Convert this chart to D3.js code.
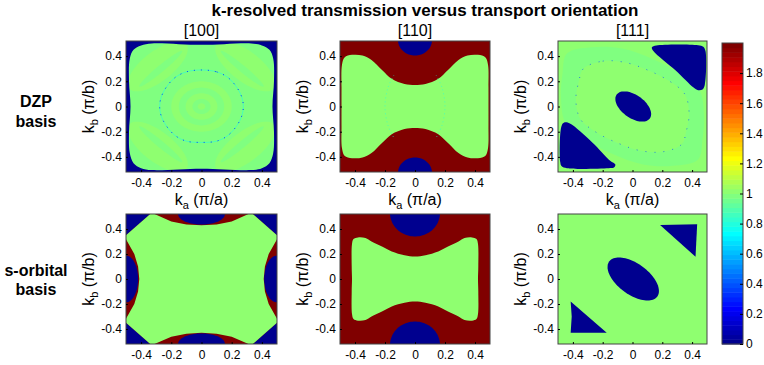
<!DOCTYPE html>
<html>
<head>
<meta charset="utf-8">
<script src="https://cdn.jsdelivr.net/npm/d3@7"></script>
<style>
  body { margin: 0; background: #fff; }
  text { font-family: "Liberation Sans", Arial, sans-serif; fill: #000; }
</style>
</head>
<body>
<svg id="chart" width="764" height="365"></svg>
<script>
// ---- values ----
const title = "k-resolved transmission versus transport orientation";
const columnTitles = ["[100]", "[110]", "[111]"];
const rowTitles = [["DZP", "basis"], ["s-orbital", "basis"]];
const axisTicks = [-0.4, -0.2, 0, 0.2, 0.4];
const colorbarTicks = [0, 0.2, 0.4, 0.6, 0.8, 1, 1.2, 1.4, 1.6, 1.8];

// transmission levels that appear in the maps
const T0 = 0, T1 = 1, T1low = 0.99, T2 = 2;

// [100], DZP : green rounded square, blue outside
const dzp100Green = [[-0.33,0.50],[-0.15,0.495],[0,0.49],[0.15,0.495],[0.33,0.50],[0.40,0.485],[0.45,0.45],
  [0.475,0.38],[0.48,0.2],[0.47,0],[0.48,-0.2],[0.475,-0.37],[0.45,-0.45],[0.40,-0.49],[0.33,-0.505],
  [0.15,-0.50],[0,-0.495],[-0.15,-0.50],[-0.33,-0.505],[-0.40,-0.49],[-0.45,-0.45],[-0.475,-0.37],
  [-0.48,-0.2],[-0.47,0],[-0.48,0.2],[-0.475,0.38],[-0.45,0.45],[-0.40,0.485]];
// corner lobes: cx, cy, semi-axis a, semi-axis b, angle (deg)
const dzp100Lobes = [[0.29,0.32,0.26,0.11,-45],[-0.29,0.32,0.26,0.11,45],[-0.29,-0.32,0.26,0.11,-45],[0.29,-0.32,0.26,0.11,45]];
const dzp100LobeCores = [[0.27,0.30,0.2,0.025,-45],[-0.27,0.30,0.2,0.025,45],[-0.27,-0.30,0.2,0.025,-45],[0.27,-0.30,0.2,0.025,45]];
const dzp100RingRadii = [0.2, 0.15, 0.105, 0.06, 0.025];
const dzp100DotRing = [[0,0.29],[0.1,0.275],[0.175,0.23],[0.235,0.15],[0.268,0.07],[0.277,0],[0.268,-0.07],
  [0.235,-0.15],[0.175,-0.23],[0.1,-0.275],[0,-0.285],[-0.1,-0.275],[-0.175,-0.23],[-0.235,-0.15],
  [-0.268,-0.07],[-0.277,0],[-0.268,0.07],[-0.235,0.15],[-0.175,0.23],[-0.1,0.275]];

// [110], DZP : green bow-tie on red, blue caps
const dzp110Green = [[-0.47,0.39],[-0.42,0.41],[-0.35,0.405],[-0.29,0.37],[-0.22,0.29],[-0.155,0.22],[-0.07,0.178],
  [0,0.17],[0.07,0.178],[0.155,0.22],[0.22,0.29],[0.29,0.37],[0.35,0.405],[0.42,0.41],[0.47,0.39],
  [0.487,0.33],[0.49,0.15],[0.49,0],[0.49,-0.15],[0.487,-0.33],
  [0.47,-0.39],[0.42,-0.41],[0.35,-0.405],[0.29,-0.37],[0.22,-0.29],[0.155,-0.22],[0.07,-0.178],
  [0,-0.17],[-0.07,-0.178],[-0.155,-0.22],[-0.22,-0.29],[-0.29,-0.37],[-0.35,-0.405],[-0.42,-0.41],[-0.47,-0.39],
  [-0.487,-0.33],[-0.49,-0.15],[-0.49,0],[-0.49,0.15],[-0.487,0.33]];
const dzp110Caps = [[0,0.525,0.113,0.12,0],[0,-0.525,0.113,0.12,0]];
const dzp110Arcs = [
  [[-0.14,0.25],[-0.18,0.15],[-0.2,0],[-0.18,-0.15],[-0.14,-0.25]],
  [[0.14,0.25],[0.18,0.15],[0.2,0],[0.18,-0.15],[0.14,-0.25]]];

// [111], DZP : blue pockets on green
const dzp111Band = [[-0.44,0.42],[-0.27,0.47],[-0.07,0.46],[0.13,0.38],[0.32,0.26],[0.45,0.13],[0.48,-0.07],
  [0.47,-0.26],[0.44,-0.42],[0.27,-0.47],[0.07,-0.46],[-0.13,-0.38],[-0.32,-0.26],[-0.45,-0.13],
  [-0.48,0.07],[-0.47,0.26]];
const dzp111Ring = [[-0.33,0.30],[-0.2,0.36],[-0.05,0.35],[0.1,0.29],[0.25,0.2],[0.35,0.1],[0.38,-0.05],
  [0.36,-0.2],[0.33,-0.30],[0.2,-0.36],[0.05,-0.35],[-0.1,-0.29],[-0.25,-0.2],[-0.35,-0.1],
  [-0.38,0.05],[-0.36,0.2]];
const dzp111UpperPocket = [[0.13,0.47],[0.16,0.485],[0.44,0.487],[0.475,0.475],[0.49,0.44],[0.485,0.17],
  [0.47,0.135],[0.44,0.13],[0.41,0.15],[0.29,0.285],[0.14,0.44]];
const dzp111LowerPocket = [[-0.475,-0.15],[-0.455,-0.126],[-0.42,-0.135],[-0.27,-0.285],[-0.15,-0.43],
  [-0.115,-0.46],[-0.125,-0.485],[-0.16,-0.49],[-0.44,-0.49],[-0.475,-0.475],[-0.485,-0.44]];
const dzp111Centre = [0.005,0,0.147,0.085,-45];

// [100], s-orbital
const s100Red = [[-0.33,0.53],[0.33,0.53],[0.51,0.34],[0.51,-0.34],[0.33,-0.53],[-0.33,-0.53],[-0.51,-0.34],[-0.51,0.34]];
const s100Caps = [[0,0.52,0.155,0.085,0],[0,-0.52,0.155,0.085,0],[-0.5,0,0.08,0.187,0],[0.5,0,0.085,0.187,0]];
const s100Green = [[-0.33,0.53],[-0.2,0.461],[-0.1,0.437],[0,0.43],[0.1,0.437],[0.2,0.461],[0.33,0.53],
  [0.51,0.34],[0.445,0.2],[0.42,0.1],[0.412,0],[0.42,-0.1],[0.445,-0.2],[0.51,-0.34],
  [0.33,-0.53],[0.2,-0.461],[0.1,-0.437],[0,-0.43],[-0.1,-0.437],[-0.2,-0.461],[-0.33,-0.53],
  [-0.51,-0.34],[-0.445,-0.2],[-0.42,-0.1],[-0.412,0],[-0.42,0.1],[-0.445,0.2],[-0.51,0.34]];

// [110], s-orbital
const s110Green = [[-0.41,0.32],[-0.38,0.333],[-0.33,0.328],[-0.29,0.30],[-0.22,0.26],[-0.155,0.22],[-0.07,0.19],
  [0,0.18],[0.07,0.19],[0.155,0.22],[0.22,0.26],[0.29,0.30],[0.33,0.328],[0.38,0.333],[0.41,0.32],
  [0.42,0.28],[0.422,0.1],[0.42,0],[0.422,-0.1],[0.42,-0.28],
  [0.41,-0.32],[0.38,-0.333],[0.33,-0.328],[0.29,-0.30],[0.22,-0.26],[0.155,-0.22],[0.07,-0.19],
  [0,-0.18],[-0.07,-0.19],[-0.155,-0.22],[-0.22,-0.26],[-0.29,-0.30],[-0.33,-0.328],[-0.38,-0.333],[-0.41,-0.32],
  [-0.42,-0.28],[-0.422,-0.1],[-0.42,0],[-0.422,0.1],[-0.42,0.28]];
const s110Caps = [[0,0.53,0.167,0.19,0],[0,-0.53,0.167,0.19,0]];

// [111], s-orbital
const s111UpperPocket = [[0.185,0.432],[0.434,0.438],[0.423,0.178]];
const s111LowerPocket = [[-0.415,-0.18],[-0.408,-0.3],[-0.415,-0.43],[-0.173,-0.43]];
const s111Centre = [0.005,0,0.215,0.115,-45];

// ---- layout ----
const colX = [[126,277],[340,490],[558,707]];
const rowY = [[41,172],[214,344]];
const rowTitleY = [[107,127],[276,295]];
const dom = { x: [-0.5, 0.5], y: [-0.52, 0.52] };
const cbBox = { x0: 722, x1: 743, y0: 43, y1: 344 };

// MATLAB jet(64) with colour limits [0, 2]
function jet(v) {
  let k = Math.floor(v / 2 * 64) + 1;
  k = Math.max(1, Math.min(64, k));
  const u = j => (j < 1 || j > 47) ? 0 : j <= 16 ? j / 16 : j <= 31 ? 1 : (48 - j) / 16;
  return d3.rgb(u(k - 24) * 255, u(k - 8) * 255, u(k + 8) * 255).formatHex();
}

function ellipsePts(e) {
  const [cx, cy, a, b, ang] = e, t = ang * Math.PI / 180;
  return d3.range(0, 360, 4).map(deg => {
    const s = deg * Math.PI / 180;
    return [cx + a * Math.cos(s) * Math.cos(t) - b * Math.sin(s) * Math.sin(t),
            cy + a * Math.cos(s) * Math.sin(t) + b * Math.sin(s) * Math.cos(t)];
  });
}

const panels = [
  { row: 0, col: 0, layers: [
    { fill: T1low },
    ...dzp100Lobes.map(e => ({ ellipse: e, v: T1 })),
    ...dzp100LobeCores.map(e => ({ ellipse: e, v: T1low })),
    ...dzp100RingRadii.map((r, i) => ({ ellipse: [0, 0, r, r, 0], v: i % 2 ? T1low : T1 })),
    { dots: dzp100DotRing, closed: true, kind: "ring" },
    { outside: dzp100Green, v: T0 } ] },
  { row: 0, col: 1, layers: [
    { fill: T2 },
    ...dzp110Caps.map(e => ({ ellipse: e, v: T0 })),
    { poly: dzp110Green, v: T1, smooth: true },
    ...dzp110Arcs.map(a => ({ dots: a, closed: false, kind: "faint" })) ] },
  { row: 0, col: 2, layers: [
    { fill: T1 },
    { poly: dzp111Band, v: T1low, smooth: true },
    { poly: dzp111Ring, v: T1, smooth: true },
    { dots: dzp111Ring, closed: true, kind: "sparse" },
    { poly: dzp111UpperPocket, v: T0, smooth: true },
    { poly: dzp111LowerPocket, v: T0, smooth: true },
    { ellipse: dzp111Centre, v: T0 } ] },
  { row: 1, col: 0, layers: [
    { fill: T0 },
    { poly: s100Red, v: T2 },
    ...s100Caps.map(e => ({ ellipse: e, v: T0 })),
    { poly: s100Green, v: T1 } ] },
  { row: 1, col: 1, layers: [
    { fill: T2 },
    ...s110Caps.map(e => ({ ellipse: e, v: T0 })),
    { poly: s110Green, v: T1, smooth: true } ] },
  { row: 1, col: 2, layers: [
    { fill: T1 },
    { poly: s111UpperPocket, v: T0 },
    { poly: s111LowerPocket, v: T0 },
    { ellipse: s111Centre, v: T0 } ] }
];

const svg = d3.select("#chart");
svg.append("rect").attr("width", 764).attr("height", 365).attr("fill", "#fff");
const defs = svg.append("defs");

panels.forEach((p, i) => {
  const [x0, x1] = colX[p.col], [y0, y1] = rowY[p.row];
  const xs = d3.scaleLinear().domain(dom.x).range([x0, x1]);
  const ys = d3.scaleLinear().domain(dom.y).range([y1, y0]);
  const lineClosed = c => d3.line().x(d => xs(d[0])).y(d => ys(d[1])).curve(c);

  defs.append("clipPath").attr("id", "clip" + i)
    .append("rect").attr("x", x0).attr("y", y0).attr("width", x1 - x0).attr("height", y1 - y0);
  const g = svg.append("g").attr("clip-path", `url(#clip${i})`);

  p.layers.forEach(L => {
    if (L.fill !== undefined) {
      g.append("rect").attr("x", x0).attr("y", y0).attr("width", x1 - x0).attr("height", y1 - y0)
        .attr("fill", jet(L.fill));
    } else if (L.ellipse) {
      g.append("path").attr("d", lineClosed(d3.curveLinearClosed)(ellipsePts(L.ellipse))).attr("fill", jet(L.v));
    } else if (L.poly) {
      const c = L.smooth ? d3.curveCatmullRomClosed.alpha(0.5) : d3.curveLinearClosed;
      g.append("path").attr("d", lineClosed(c)(L.poly)).attr("fill", jet(L.v));
    } else if (L.outside) {
      const inner = lineClosed(d3.curveCatmullRomClosed.alpha(0.5))(L.outside);
      g.append("path").attr("fill-rule", "evenodd").attr("fill", jet(L.v))
        .attr("d", `M${x0 - 2},${y0 - 2}H${x1 + 2}V${y1 + 2}H${x0 - 2}Z` + inner);
    } else if (L.dots) {
      const c = L.closed ? d3.curveCatmullRomClosed.alpha(0.5) : d3.curveCatmullRom.alpha(0.5);
      const d = lineClosed(c)(L.dots);
      if (L.kind === "ring") {
        g.append("path").attr("d", d).attr("fill", "none").attr("stroke", jet(0.75))
          .attr("stroke-width", 0.9).attr("stroke-opacity", 0.55);
        g.append("path").attr("d", d).attr("fill", "none").attr("stroke", jet(0.3))
          .attr("stroke-width", 1).attr("stroke-dasharray", "1,6").attr("stroke-opacity", 0.85);
      } else if (L.kind === "faint") {
        g.append("path").attr("d", d).attr("fill", "none").attr("stroke", jet(0.8))
          .attr("stroke-width", 1).attr("stroke-dasharray", "1,3").attr("stroke-opacity", 0.6);
      } else {
        g.append("path").attr("d", d).attr("fill", "none").attr("stroke", jet(0.4))
          .attr("stroke-width", 1).attr("stroke-dasharray", "1,8").attr("stroke-opacity", 0.7);
      }
    }
  });

  // frame
  svg.append("rect").attr("x", x0).attr("y", y0).attr("width", x1 - x0).attr("height", y1 - y0)
    .attr("fill", "none").attr("stroke", "#444").attr("stroke-width", 1);

  const ax = svg.append("g").attr("transform", `translate(0,${y1})`)
    .call(d3.axisBottom(xs).tickValues(axisTicks).tickFormat(d => String(d))
      .tickSizeInner(-2).tickSizeOuter(0).tickPadding(6));
  const ay = svg.append("g").attr("transform", `translate(${x0},0)`)
    .call(d3.axisLeft(ys).tickValues(axisTicks).tickFormat(d => String(d))
      .tickSizeInner(-2).tickSizeOuter(0).tickPadding(4));
  [ax, ay].forEach(a => {
    a.select(".domain").remove();
    a.selectAll("line").attr("stroke", "#000");
    a.selectAll("text").attr("font-size", 12).attr("font-family", "Liberation Sans, Arial, sans-serif");
  });

  // y label  k_b (pi/b)
  const yl = svg.append("text").attr("transform", `translate(${x0 - 32},${(y0 + y1) / 2}) rotate(-90)`)
    .attr("text-anchor", "middle").attr("font-size", 16);
  yl.append("tspan").text("k");
  yl.append("tspan").attr("font-size", 11).attr("dy", 4).text("b");
  yl.append("tspan").attr("dy", -4).text(" (\u03c0/b)");

  if (p.row === 0) {
    const xl = svg.append("text").attr("x", (x0 + x1) / 2).attr("y", 205)
      .attr("text-anchor", "middle").attr("font-size", 16);
    xl.append("tspan").text("k");
    xl.append("tspan").attr("font-size", 11).attr("dy", 4).text("a");
    xl.append("tspan").attr("dy", -4).text(" (\u03c0/a)");

    svg.append("text").attr("x", (x0 + x1) / 2).attr("y", 36).attr("text-anchor", "middle")
      .attr("font-size", 16).text(columnTitles[p.col]);
  }
});

// row titles
rowTitles.forEach((lines, r) => {
  lines.forEach((s, j) => {
    svg.append("text").attr("x", 36).attr("y", rowTitleY[r][j])
      .attr("text-anchor", "middle").attr("font-size", 16).attr("font-weight", "bold").text(s);
  });
});

// main title
svg.append("text").attr("x", 425).attr("y", 16).attr("text-anchor", "middle")
  .attr("font-size", 17).attr("font-weight", "bold").text(title);

// colour bar
const cb = d3.scaleLinear().domain([0, 2]).range([cbBox.y1, cbBox.y0]);
svg.append("g").selectAll("rect").data(d3.range(64)).join("rect")
  .attr("x", cbBox.x0).attr("width", cbBox.x1 - cbBox.x0)
  .attr("y", k => cb((k + 1) / 32)).attr("height", k => cb(k / 32) - cb((k + 1) / 32) + 0.5)
  .attr("fill", k => jet((k + 0.5) / 32));
svg.append("rect").attr("x", cbBox.x0).attr("y", cbBox.y0).attr("width", cbBox.x1 - cbBox.x0)
  .attr("height", cbBox.y1 - cbBox.y0).attr("fill", "none").attr("stroke", "#444");
const cax = svg.append("g").attr("transform", `translate(${cbBox.x1},0)`)
  .call(d3.axisRight(cb).tickValues(colorbarTicks).tickFormat(d => String(d))
    .tickSizeInner(-3).tickSizeOuter(0).tickPadding(3));
cax.select(".domain").remove();
cax.selectAll("line").attr("stroke", "#000");
cax.selectAll("text").attr("font-size", 12).attr("font-family", "Liberation Sans, Arial, sans-serif");
</script>
</body>
</html>
